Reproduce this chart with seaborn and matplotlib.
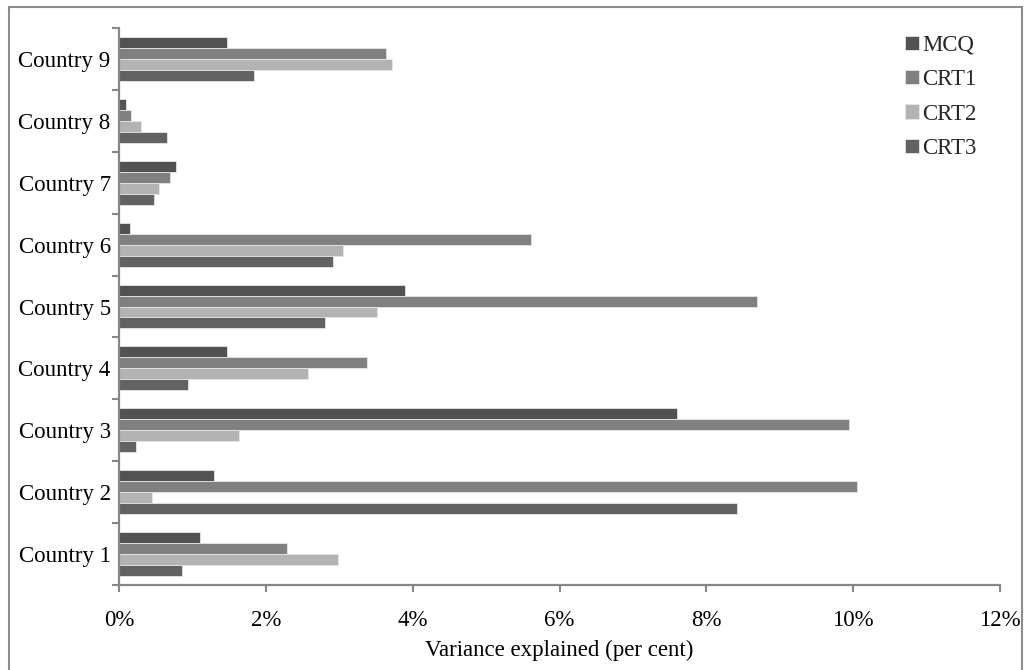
import matplotlib
matplotlib.use("Agg")
import matplotlib.pyplot as plt
import numpy as np
import pandas as pd
import seaborn as sns
from matplotlib.patches import Rectangle
from matplotlib.ticker import FixedLocator, PercentFormatter

countries = [f"Country {i}" for i in range(1, 10)]
series = ["MCQ", "CRT1", "CRT2", "CRT3"]

mcq = [1.10, 1.29, 7.60, 1.47, 3.89, 0.15, 0.77, 0.09, 1.47]
crt1 = [2.29, 10.05, 9.94, 3.38, 8.69, 5.61, 0.69, 0.17, 3.64]
crt2 = [2.98, 0.45, 1.64, 2.58, 3.52, 3.05, 0.55, 0.30, 3.72]
crt3 = [0.86, 8.42, 0.23, 0.94, 2.80, 2.92, 0.48, 0.65, 1.84]

colors = ["#525252", "#808080", "#b3b3b3", "#626262"]
axis_grey = "#878787"
fsize = 16.5

df = pd.DataFrame({"Country": countries, "MCQ": mcq, "CRT1": crt1,
                   "CRT2": crt2, "CRT3": crt3})
long = df.melt(id_vars="Country", var_name="Test", value_name="Variance")

sns.set_theme(style="white")
plt.rcParams["font.family"] = ["Liberation Serif", "DejaVu Serif"]

fig = plt.figure(figsize=(10.3, 6.7), dpi=100)
ax = fig.add_axes([119 / 1030, 85 / 670, 881 / 1030, 557 / 670])

sns.barplot(
    data=long, y="Country", x="Variance", hue="Test",
    order=countries[::-1], hue_order=series, palette=colors,
    orient="h", width=0.71, edgecolor="#e6e6e6", linewidth=0.6,
    saturation=1, ax=ax,
)

ax.set_xlim(0, 12)
ax.set_ylim(8.5, -0.5)
ax.xaxis.set_major_formatter(PercentFormatter(decimals=0))
ax.set_xticks(np.arange(0, 13, 2))
ax.yaxis.set_minor_locator(FixedLocator(np.arange(-0.5, 9, 1)))
ax.tick_params(axis="y", which="major", length=0, labelsize=fsize, pad=6,
               labelcolor="black")
ax.tick_params(axis="y", which="minor", length=5, width=1.5, color=axis_grey,
               left=True)
ax.tick_params(axis="x", which="major", length=5, width=1.5, color=axis_grey,
               bottom=True, labelsize=fsize, pad=13, labelcolor="black")

for side in ["top", "right"]:
    ax.spines[side].set_visible(False)
for side in ["left", "bottom"]:
    ax.spines[side].set_color(axis_grey)
    ax.spines[side].set_linewidth(1.6)

ax.set_ylabel("")
ax.set_xlabel("Variance explained (per cent)", fontsize=fsize, labelpad=6,
              color="black")

ax.legend(loc="upper left", frameon=False, fontsize=fsize,
          handlelength=0.6, handleheight=0.6, handletextpad=0.15,
          labelspacing=0.58, borderpad=0, borderaxespad=0,
          bbox_to_anchor=(905 / 1030, 1 - 35 / 670),
          bbox_transform=fig.transFigure)

fig.patches.append(Rectangle((9 / 1030, -0.02), 1013 / 1030, 1 - 7 / 670 + 0.02,
                             transform=fig.transFigure, fill=False,
                             edgecolor="#8c8c8c", linewidth=1.5))

fig.savefig("out.png", dpi=100)
